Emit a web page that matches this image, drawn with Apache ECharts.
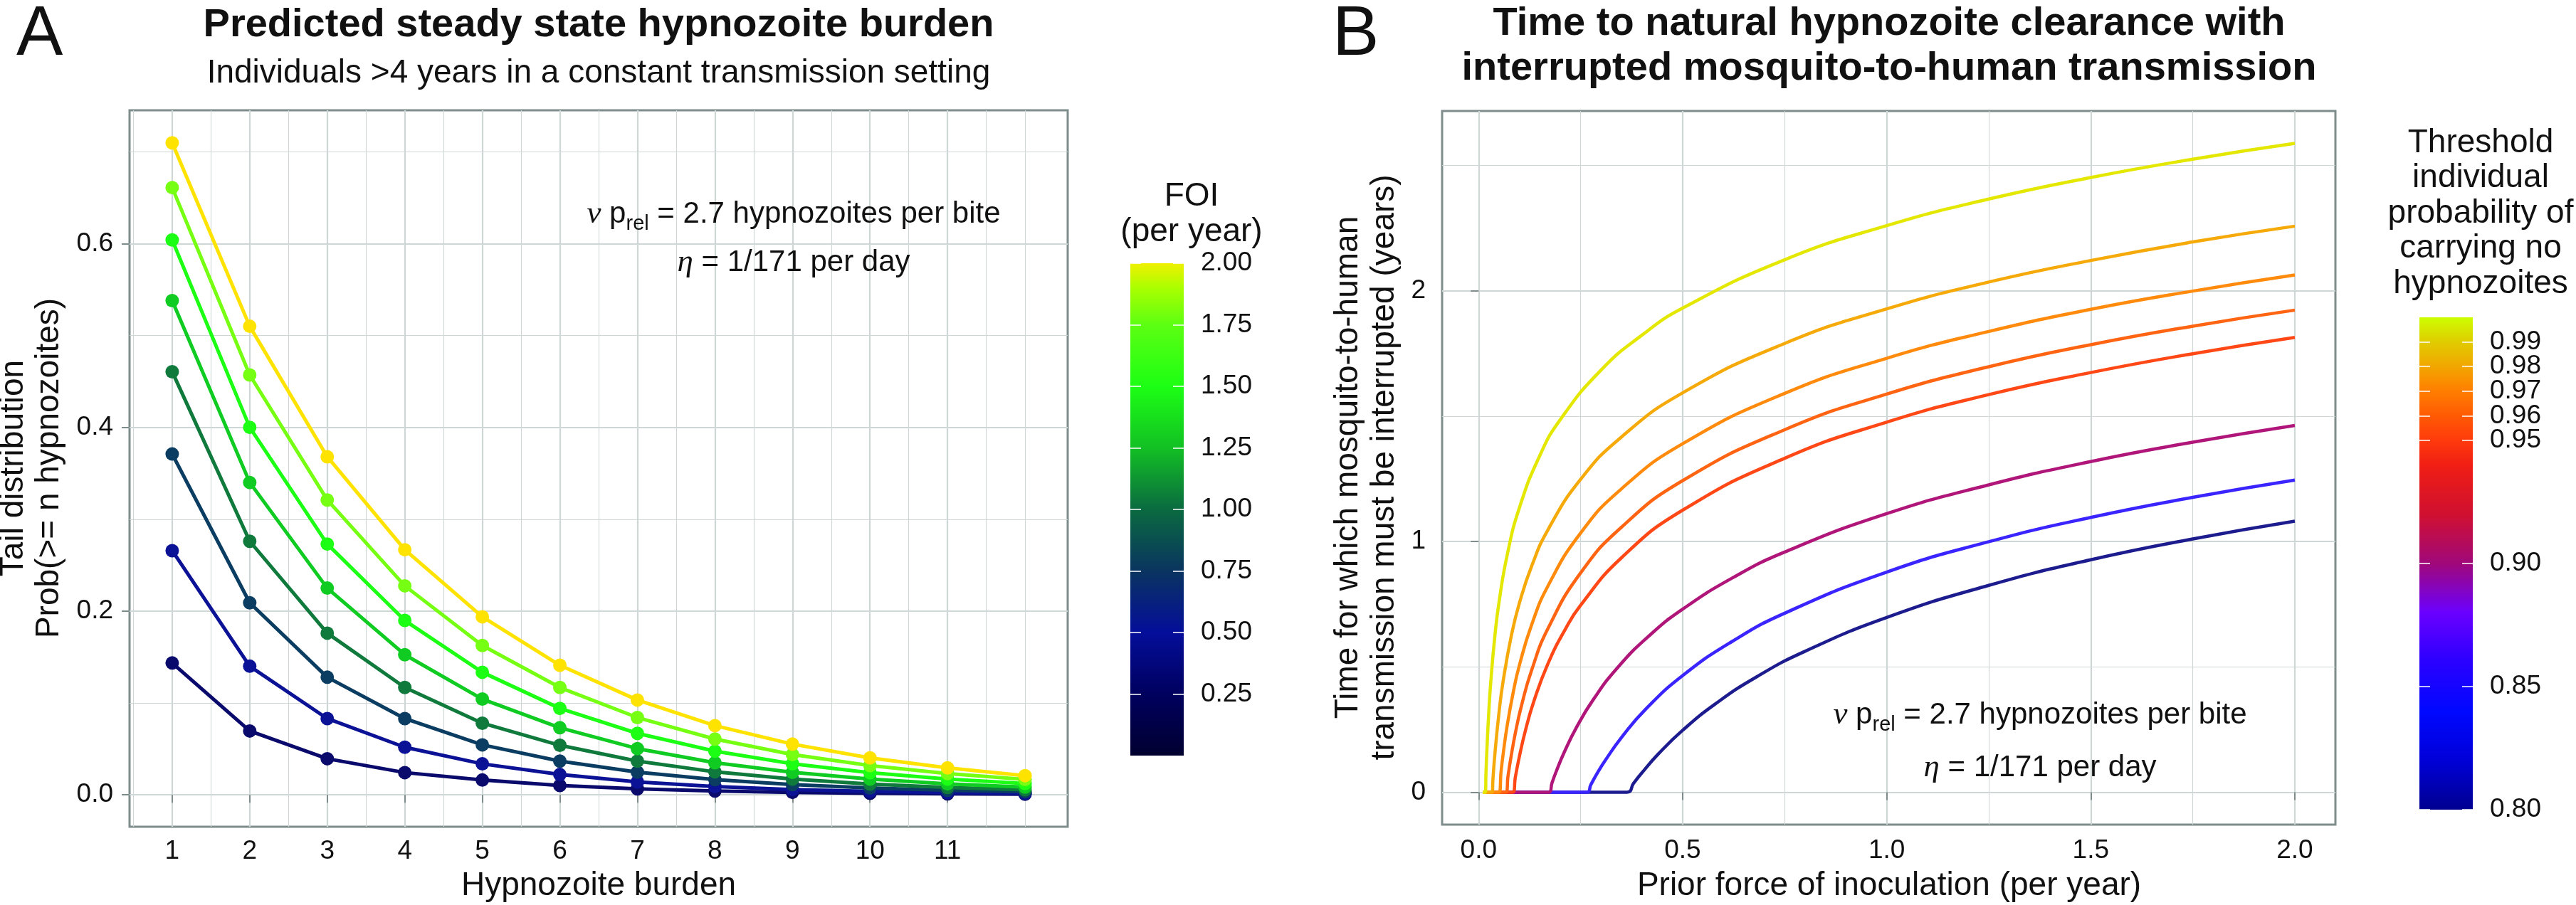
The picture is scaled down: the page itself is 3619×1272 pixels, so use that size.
<!DOCTYPE html>
<html>
<head>
<meta charset="utf-8">
<script src="https://cdn.jsdelivr.net/npm/echarts@6/dist/echarts.min.js"></script>
<style>
html,body{margin:0;padding:0;background:#ffffff;}
#chart{width:3619px;height:1272px;}
</style>
</head>
<body>
<div id="chart"></div>
<script>
// ---------------- DATA : panel A ----------------
const hypnozoiteBurden = [1, 2, 3, 4, 5, 6, 7, 8, 9, 10, 11, 12];
const burdenTicks = [1, 2, 3, 4, 5, 6, 7, 8, 9, 10, 11];
const burdenMinorTicks = [0.5, 1.5, 2.5, 3.5, 4.5, 5.5, 6.5, 7.5, 8.5, 9.5, 10.5, 11.5, 12];
const tailTicks = [0, 0.2, 0.4, 0.6];
const tailMinorTicks = [0.1, 0.3, 0.5, 0.7];
const foiValues = [0.25, 0.5, 0.75, 1.0, 1.25, 1.5, 1.75, 2.0];
const tailFoi025 = [0.1435, 0.0695, 0.0393, 0.0242, 0.0161, 0.0101, 0.0065, 0.0042, 0.0027, 0.0017, 0.0011, 0.0007];
const tailFoi050 = [0.2658, 0.1400, 0.0830, 0.0518, 0.0337, 0.0221, 0.0141, 0.0090, 0.0058, 0.0037, 0.0024, 0.0016];
const tailFoi075 = [0.3710, 0.2090, 0.1280, 0.0830, 0.0544, 0.0367, 0.0247, 0.0165, 0.0111, 0.0074, 0.0050, 0.0033];
const tailFoi100 = [0.4606, 0.2760, 0.1760, 0.1168, 0.0780, 0.0539, 0.0367, 0.0250, 0.0171, 0.0117, 0.0080, 0.0055];
const tailFoi125 = [0.5380, 0.3400, 0.2250, 0.1525, 0.1042, 0.0730, 0.0503, 0.0350, 0.0245, 0.0171, 0.0120, 0.0084];
const tailFoi150 = [0.6040, 0.4000, 0.2730, 0.1898, 0.1334, 0.0941, 0.0669, 0.0475, 0.0338, 0.0241, 0.0172, 0.0123];
const tailFoi175 = [0.6610, 0.4570, 0.3210, 0.2275, 0.1626, 0.1168, 0.0841, 0.0607, 0.0439, 0.0318, 0.0231, 0.0168];
const tailFoi200 = [0.7097, 0.5100, 0.3680, 0.2668, 0.1938, 0.1410, 0.1032, 0.0753, 0.0552, 0.0402, 0.0294, 0.0209];
const tailSeries = [tailFoi025, tailFoi050, tailFoi075, tailFoi100, tailFoi125, tailFoi150, tailFoi175, tailFoi200];
const foiLegendRange = [0, 2];
const foiLegendTicks = [0.25, 0.5, 0.75, 1.0, 1.25, 1.5, 1.75, 2.0];

// ---------------- DATA : panel B ----------------
const inocTicks = [0, 0.5, 1.0, 1.5, 2.0];
const inocMinorTicks = [0.25, 0.75, 1.25, 1.75];
const timeTicks = [0, 1, 2];
const timeMinorTicks = [0.5, 1.5, 2.5];
const thresholds = [0.80, 0.85, 0.90, 0.95, 0.96, 0.97, 0.98, 0.99];
const clear080 = [[0.01,0],[0.364,0],[0.38,0.036],[0.4,0.077],[0.44,0.152],[0.5,0.247],[0.58,0.352],[0.68,0.459],[0.8,0.562],[1.0,0.697],[1.25,0.825],[1.5,0.927],[1.75,1.01],[2.0,1.081]];
const clear085 = [[0.01,0],[0.265,0],[0.275,0.03],[0.29,0.074],[0.31,0.126],[0.35,0.218],[0.41,0.332],[0.5,0.465],[0.62,0.6],[0.75,0.714],[1.0,0.878],[1.25,0.999],[1.5,1.096],[1.75,1.176],[2.0,1.245]];
const clear090 = [[0.01,0],[0.172,0],[0.18,0.038],[0.19,0.082],[0.21,0.16],[0.24,0.259],[0.28,0.367],[0.34,0.496],[0.42,0.627],[0.5,0.73],[0.62,0.853],[0.75,0.958],[1.0,1.111],[1.25,1.226],[1.5,1.319],[1.75,1.396],[2.0,1.463]];
const clear095 = [[0.01,0],[0.084,0],[0.09,0.06],[0.1,0.143],[0.115,0.248],[0.135,0.361],[0.17,0.513],[0.21,0.643],[0.25,0.746],[0.35,0.935],[0.5,1.125],[0.75,1.332],[1.0,1.476],[1.25,1.586],[1.5,1.674],[1.75,1.749],[2.0,1.814]];
const clear096 = [[0.01,0],[0.067,0],[0.072,0.064],[0.08,0.147],[0.09,0.236],[0.105,0.345],[0.13,0.487],[0.17,0.653],[0.25,0.875],[0.35,1.057],[0.5,1.243],[0.75,1.446],[1.0,1.588],[1.25,1.697],[1.5,1.785],[1.75,1.859],[2.0,1.923]];
const clear097 = [[0.01,0],[0.05,0],[0.055,0.083],[0.06,0.151],[0.07,0.266],[0.085,0.4],[0.1,0.507],[0.13,0.668],[0.17,0.823],[0.25,1.034],[0.35,1.21],[0.5,1.39],[0.75,1.591],[1.0,1.731],[1.25,1.838],[1.5,1.926],[1.75,1.999],[2.0,2.063]];
const clear098 = [[0.01,0],[0.033,0],[0.035,0.05],[0.04,0.155],[0.05,0.318],[0.06,0.442],[0.08,0.623],[0.1,0.755],[0.13,0.902],[0.17,1.047],[0.25,1.248],[0.35,1.417],[0.5,1.593],[0.75,1.79],[1.0,1.928],[1.25,2.035],[1.5,2.121],[1.75,2.195],[2.0,2.258]];
const clear099 = [[0.01,0],[0.0164,0],[0.018,0.077],[0.02,0.159],[0.025,0.322],[0.03,0.445],[0.04,0.626],[0.05,0.758],[0.07,0.946],[0.1,1.135],[0.15,1.343],[0.2,1.486],[0.3,1.684],[0.4,1.823],[0.5,1.931],[0.75,2.124],[1.0,2.26],[1.25,2.366],[1.5,2.452],[1.75,2.525],[2.0,2.588]];
const clearanceSeries = [clear080, clear085, clear090, clear095, clear096, clear097, clear098, clear099];
const probLegendRange = [0.80, 1.00];
const probLegendTicks = [0.80, 0.85, 0.90, 0.95, 0.96, 0.97, 0.98, 0.99];
const probLegendLabelsA = [0.80, 0.85, 0.90, 0.95, 0.97, 0.99];
const probLegendLabelsB = [0.96, 0.98];

// ---------------- STYLES ----------------
const FONT = 'Liberation Sans';
const INK = '#111111';
const BORDER = '#7f8c8c';
const GRIDC = '#cfd6d6';
const foiColors = ['#0a0a6c', '#0b1296', '#0b3d62', '#0f7a3c', '#10cc22', '#1cff14', '#76ff12', '#ffe300'];
const probColors = ['#1c1c8e', '#3a24ff', '#b0167a', '#ff4816', '#ff6412', '#ff8a0c', '#f5aa0a', '#e4e800'];
const foiStopValues = [0, 0.25, 0.5, 0.75, 1.0, 1.25, 1.5, 1.75, 1.9, 2.0];
const foiStopColors = ['#010030', '#00005e', '#040e9a', '#0a3460', '#0a6a40', '#12c024', '#1cff14', '#5cff12', '#aaff00', '#f0f000'];
const probStopValues = [0.80, 0.82, 0.84, 0.86, 0.88, 0.90, 0.92, 0.94, 0.95, 0.96, 0.97, 0.98, 0.99, 1.00];
const probStopColors = ['#000090', '#0000d8', '#0008ff', '#2a00ff', '#6a00ff', '#a0087a', '#d01030', '#f01e14', '#ff3a0c', '#ff5a04', '#ff7e00', '#f2a600', '#e0cc00', '#ccff00'];

function expand(lo, hi) { const d = (hi - lo) * 0.05; return [lo - d, hi + d]; }
const allTail = [].concat(...tailSeries);
const tailRange = expand(Math.min(...allTail), Math.max(...allTail));
const burdenRange = expand(Math.min(...hypnozoiteBurden), Math.max(...hypnozoiteBurden));
const allClearX = [].concat(...clearanceSeries.map(s => s.map(p => p[0])));
const allClearY = [].concat(...clearanceSeries.map(s => s.map(p => p[1])));
const inocRange = expand(Math.min(...allClearX), Math.max(...allClearX));
const timeRange = expand(Math.min(...allClearY), Math.max(...allClearY));

const labelStyle = { fontFamily: FONT, fontSize: 37, color: INK, hideOverlap: false };
function majorX(grid, range, ticks, fmt, margin) {
  return { type: 'value', gridIndex: grid, min: range[0], max: range[1], position: 'bottom',
    axisLine: { show: false },
    axisTick: { show: true, length: 11, customValues: ticks, lineStyle: { color: BORDER, width: 2 } },
    axisLabel: Object.assign({ customValues: ticks, margin: margin, formatter: fmt }, labelStyle),
    splitLine: { show: true, lineStyle: { color: GRIDC, width: 2.2 } } };
}
function minorX(grid, range, ticks) {
  return { type: 'value', gridIndex: grid, min: range[0], max: range[1], position: 'top',
    axisLine: { show: false }, axisTick: { show: false, customValues: ticks },
    axisLabel: { show: false, customValues: ticks },
    splitLine: { show: true, lineStyle: { color: GRIDC, width: 1.1 } } };
}
function majorY(grid, range, ticks, fmt) {
  return { type: 'value', gridIndex: grid, min: range[0], max: range[1], position: 'left',
    axisLine: { show: false },
    axisTick: { show: true, length: 11, customValues: ticks, lineStyle: { color: BORDER, width: 2 } },
    axisLabel: Object.assign({ customValues: ticks, margin: 23, formatter: fmt }, labelStyle),
    splitLine: { show: true, lineStyle: { color: GRIDC, width: 2.2 } } };
}
function minorY(grid, range, ticks) {
  return { type: 'value', gridIndex: grid, min: range[0], max: range[1], position: 'right',
    axisLine: { show: false }, axisTick: { show: false, customValues: ticks },
    axisLabel: { show: false, customValues: ticks },
    splitLine: { show: true, lineStyle: { color: GRIDC, width: 1.1 } } };
}
function barX(grid) {
  return { type: 'value', gridIndex: grid, min: 0, max: 1, show: false };
}
function barTicksY(grid, range, ticks) {
  return { type: 'value', gridIndex: grid, min: range[0], max: range[1], position: 'left', z: 10,
    axisLine: { show: false }, splitLine: { show: false },
    axisTick: { show: true, inside: true, length: 15, customValues: ticks, lineStyle: { color: '#ffffff', width: 1.5 } },
    axisLabel: { show: false, customValues: ticks } };
}
function barLabelsY(grid, range, ticks, labels) {
  return { type: 'value', gridIndex: grid, min: range[0], max: range[1], position: 'right', offset: 0, z: 10,
    axisLine: { show: false }, splitLine: { show: false },
    axisTick: { show: ticks !== null, inside: true, length: 15, customValues: ticks || labels, lineStyle: { color: '#ffffff', width: 1.5 } },
    axisLabel: Object.assign({ show: true, customValues: labels, margin: 24, showMinLabel: true, showMaxLabel: true,
      lineHeight: 28, formatter: v => Number(v).toFixed(2) }, labelStyle) };
}
function gradientStops(values, colors, range) {
  return values.map((v, i) => ({ offset: (v - range[0]) / (range[1] - range[0]), color: colors[i] }));
}
function colorBarSeries(xi, yi, range, values, colors) {
  const stops = gradientStops(values, colors, range);
  return { type: 'custom', xAxisIndex: xi, yAxisIndex: yi, clip: false, silent: true,
    encode: { x: 0, y: [1, 2] },
    data: [[0, range[0], range[1]]],
    renderItem: function (params, api) {
      const top = api.coord([0, api.value(2)]);
      const bot = api.coord([1, api.value(1)]);
      return { type: 'rect', shape: { x: top[0], y: top[1], width: bot[0] - top[0], height: bot[1] - top[1] },
        style: { fill: new echarts.graphic.LinearGradient(0, 1, 0, 0, stops) } };
    } };
}

const series = [];
foiValues.forEach((f, i) => {
  series.push({ type: 'line', name: 'FOI ' + f, xAxisIndex: 0, yAxisIndex: 0,
    data: hypnozoiteBurden.map((b, j) => [b, tailSeries[i][j]]),
    symbol: 'circle', symbolSize: 19, showSymbol: true,
    lineStyle: { width: 5, color: foiColors[i] }, itemStyle: { color: foiColors[i] } });
});
thresholds.forEach((p, i) => {
  series.push({ type: 'line', name: 'p ' + p, xAxisIndex: 2, yAxisIndex: 2,
    data: clearanceSeries[i], smooth: 0.5, showSymbol: false, symbol: 'none',
    lineStyle: { width: 4.5, color: probColors[i] }, itemStyle: { color: probColors[i] } });
});
series.push(colorBarSeries(4, 4, foiLegendRange, foiStopValues, foiStopColors));
series.push(colorBarSeries(5, 6, probLegendRange, probStopValues, probStopColors));

function txt(x, y, text, size, extra) {
  const e = extra || {};
  return { type: 'text', x: x, y: y, rotation: e.rotation || 0, z: 100,
    style: { text: text, fontSize: size, fontFamily: e.family || FONT, fontWeight: e.weight || 'normal',
      fill: INK, align: e.align || 'center', verticalAlign: 'middle',
      textAlign: e.align || 'center', textVerticalAlign: 'middle',
      lineHeight: e.lineHeight, rich: e.rich } };
}
const annRich = {
  it: { fontFamily: 'Liberation Serif', fontStyle: 'italic', fontSize: 45, lineHeight: 56 },
  sub: { fontFamily: FONT, fontSize: 29, verticalAlign: 'bottom', lineHeight: 32 }
};
const R = Math.PI / 2;
const graphics = [
  txt(23, 50, 'A', 98, { align: 'left' }),
  txt(1872, 50, 'B', 98, { align: 'left' }),
  txt(841, 36, 'Predicted steady state hypnozoite burden', 56, { weight: 'bold' }),
  txt(841, 103, 'Individuals >4 years in a constant transmission setting', 46),
  txt(2654, 34, 'Time to natural hypnozoite clearance with', 56, { weight: 'bold' }),
  txt(2654, 97, 'interrupted mosquito-to-human transmission', 56, { weight: 'bold' }),
  txt(841, 1245, 'Hypnozoite burden', 46),
  txt(2654, 1245, 'Prior force of inoculation (per year)', 46),
  txt(19, 658, 'Tail distribution', 46, { rotation: R }),
  txt(69, 658, 'Prob(>= n hypnozoites)', 46, { rotation: R }),
  txt(1894, 657, 'Time for which mosquito-to-human', 46, { rotation: R }),
  txt(1945, 657, 'transmission must be interrupted (years)', 46, { rotation: R }),
  txt(1674, 276, 'FOI', 46),
  txt(1674, 326, '(per year)', 46),
  txt(3485, 201, 'Threshold', 46),
  txt(3485, 250.6, 'individual', 46),
  txt(3485, 300.2, 'probability of', 46),
  txt(3485, 349.8, 'carrying no', 46),
  txt(3485, 399.4, 'hypnozoites', 46),
  txt(1115, 301, '{it|\u03bd} p{sub|rel} = 2.7 hypnozoites per bite', 42, { lineHeight: 56, rich: annRich }),
  txt(1115, 369, '{it|\u03b7} = 1/171 per day', 42, { lineHeight: 56, rich: annRich }),
  txt(2866, 1005, '{it|\u03bd} p{sub|rel} = 2.7 hypnozoites per bite', 42, { lineHeight: 56, rich: annRich }),
  txt(2866, 1079, '{it|\u03b7} = 1/171 per day', 42, { lineHeight: 56, rich: annRich })
];

const option = {
  animation: false,
  backgroundColor: '#ffffff',
  grid: [
    { left: 182, top: 155, width: 1318, height: 1007, show: true, borderColor: BORDER, borderWidth: 3, backgroundColor: 'transparent', containLabel: false },
    { left: 2026, top: 156, width: 1255, height: 1003, show: true, borderColor: BORDER, borderWidth: 3, backgroundColor: 'transparent', containLabel: false },
    { left: 1588, top: 370, width: 75, height: 692, show: false },
    { left: 3399, top: 446, width: 75, height: 692, show: false }
  ],
  xAxis: [
    majorX(0, burdenRange, burdenTicks, v => String(v), 16),
    minorX(0, burdenRange, burdenMinorTicks),
    majorX(1, inocRange, inocTicks, v => Number(v).toFixed(1), 18),
    minorX(1, inocRange, inocMinorTicks),
    barX(2),
    barX(3)
  ],
  yAxis: [
    majorY(0, tailRange, tailTicks, v => Number(v).toFixed(1)),
    minorY(0, tailRange, tailMinorTicks),
    majorY(1, timeRange, timeTicks, v => String(Math.round(v))),
    minorY(1, timeRange, timeMinorTicks),
    barTicksY(2, foiLegendRange, foiLegendTicks),
    barLabelsY(2, foiLegendRange, foiLegendTicks, foiLegendTicks),
    barTicksY(3, probLegendRange, probLegendTicks),
    barLabelsY(3, probLegendRange, probLegendTicks, probLegendLabelsA),
    barLabelsY(3, probLegendRange, null, probLegendLabelsB)
  ],
  series: series,
  graphic: { elements: graphics }
};
const chart = echarts.init(document.getElementById('chart'), null, { renderer: 'canvas' });
chart.setOption(option);
</script>
</body>
</html>
